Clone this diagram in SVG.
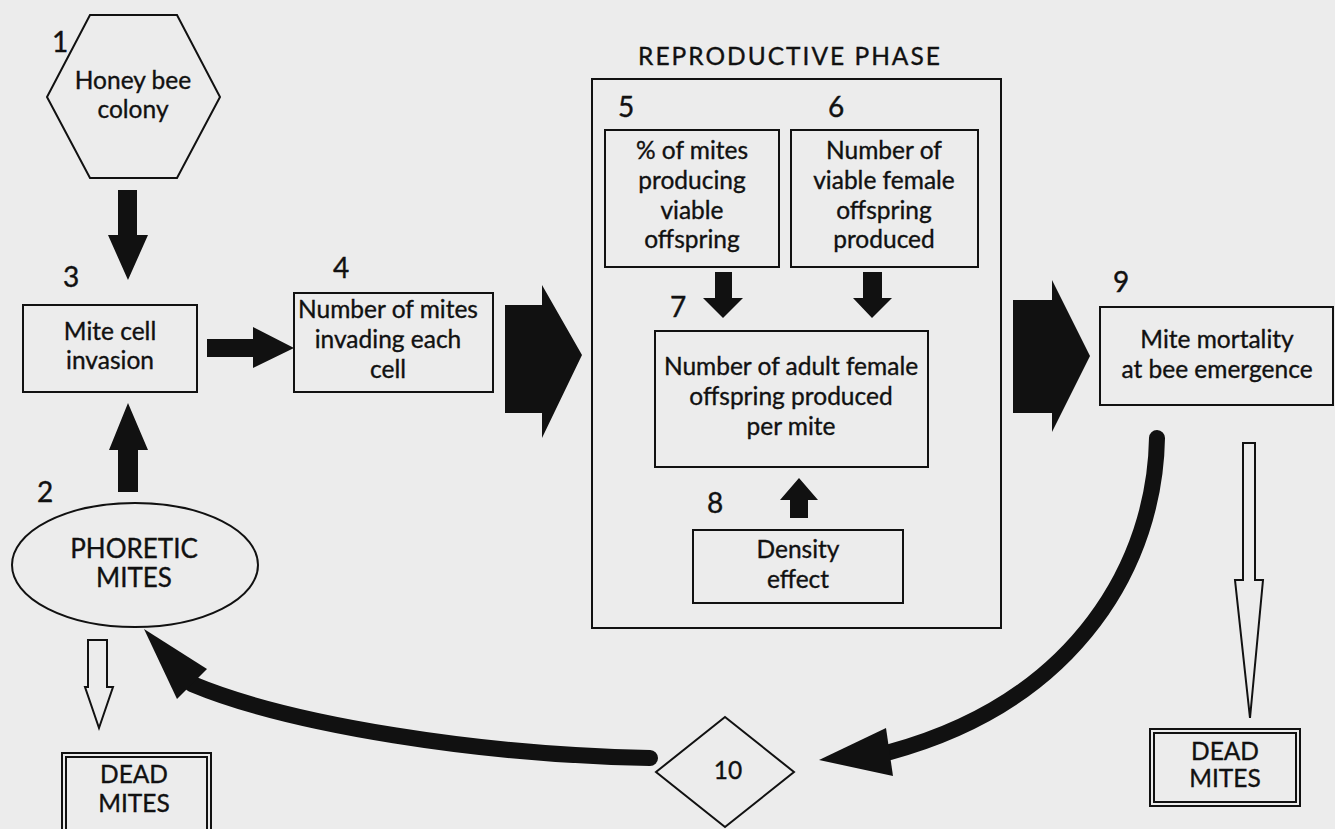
<svg xmlns="http://www.w3.org/2000/svg" width="1335" height="829" viewBox="0 0 1335 829">
<style>
.t{font-family:Lato,"Open Sans","Liberation Sans",sans-serif;fill:#111;stroke:#111;stroke-width:0.35;text-anchor:middle;font-size:24.5px}
.n{font-family:Lato,"Open Sans","Liberation Sans",sans-serif;fill:#111;stroke:#111;stroke-width:0.4;font-size:28px}
.cap{font-size:26px}
.box{fill:none;stroke:#111;stroke-width:2}
.solid{fill:#111;stroke:none}
.hollow{fill:#ececec;stroke:#111;stroke-width:2;stroke-linejoin:miter}
.curve{fill:none;stroke:#111;stroke-width:16;stroke-linecap:round}
</style>
<rect x="0" y="0" width="1335" height="829" fill="#ececec"/>

<g id="connectors">
  <polygon class="solid" points="118,190 137,190 137,235 148,235 128,280 108,235 118,235"/>
  <polygon class="solid" points="118,492 138,492 138,450 148,450 128,403 109,450 118,450"/>
  <polygon class="solid" points="207,339 253,339 253,327 294,348 253,368 253,357 207,357"/>
  <polygon class="solid" points="505,305 542,305 542,285 582,355 542,438 542,413 505,413"/>
  <polygon class="solid" points="1013,300 1052,300 1052,280 1090,356 1052,432 1052,413 1013,413"/>
  <polygon class="solid" points="715,272 732,272 732,298 743,298 723,318 703,298 715,298"/>
  <polygon class="solid" points="863,272 882,272 882,298 892,298 872,318 853,298 863,298"/>
  <polygon class="solid" points="790,518 808,518 808,500 818,500 799,478 780,500 790,500"/>
  <polygon class="hollow" points="88,640 107,640 107,687 113,687 99,728 85,687 88,687"/>
  <polygon class="hollow" points="1243,443 1255,443 1255,580 1263,580 1250,718 1235,580 1243,580"/>
  <path class="curve" d="M 650 758 C 480 755, 290 725, 192 684"/>
  <polygon class="solid" points="144,629 207,669 177,699"/>
  <path class="curve" d="M 1157 438 C 1155 560, 1080 700, 890 752"/>
  <polygon class="solid" points="819,760 886,728 893,776"/>
</g>

<g id="node1">
  <polygon class="box" points="90,15 177,15 220,97 177,178 90,178 47,97"/>
  <text class="n" x="52" y="52">1</text>
  <text class="t" x="133" y="89">Honey bee</text>
  <text class="t" x="133" y="118">colony</text>
</g>

<g id="node3">
  <text class="n" x="63" y="287">3</text>
  <rect class="box" x="23" y="305" width="174" height="87"/>
  <text class="t" x="110" y="340">Mite cell</text>
  <text class="t" x="110" y="369">invasion</text>
</g>

<g id="node4">
  <text class="n" x="333" y="278">4</text>
  <rect class="box" x="294" y="293" width="199" height="99"/>
  <text class="t" x="388" y="318">Number of mites</text>
  <text class="t" x="388" y="348">invading each</text>
  <text class="t" x="388" y="378">cell</text>
</g>

<g id="node2">
  <text class="n" x="37" y="502">2</text>
  <ellipse class="box" cx="135" cy="565" rx="123" ry="62"/>
  <text class="t cap" x="134" y="558">PHORETIC</text>
  <text class="t cap" x="134" y="587">MITES</text>
</g>

<g id="dead-left">
  <rect class="box" x="62" y="753" width="149" height="82"/>
  <rect class="box" x="66" y="757" width="141" height="76" stroke-width="1.5"/>
  <text class="t" x="134" y="783" font-size="25">DEAD</text>
  <text class="t" x="134" y="812" font-size="25">MITES</text>
</g>

<g id="reproductive-phase">
  <text class="t" x="790" y="65" font-size="31" letter-spacing="2">REPRODUCTIVE PHASE</text>
  <rect class="box" x="592" y="79" width="409" height="549"/>
</g>

<g id="node5">
  <text class="n" x="618" y="117">5</text>
  <rect class="box" x="605" y="130" width="174" height="137"/>
  <text class="t" x="692" y="159">% of mites</text>
  <text class="t" x="692" y="189">producing</text>
  <text class="t" x="692" y="219">viable</text>
  <text class="t" x="692" y="248">offspring</text>
</g>

<g id="node6">
  <text class="n" x="828" y="117">6</text>
  <rect class="box" x="791" y="130" width="187" height="137"/>
  <text class="t" x="884" y="159">Number of</text>
  <text class="t" x="884" y="189">viable female</text>
  <text class="t" x="884" y="219">offspring</text>
  <text class="t" x="884" y="248">produced</text>
</g>

<g id="node7">
  <text class="n" x="670" y="317">7</text>
  <rect class="box" x="655" y="331" width="273" height="136"/>
  <text class="t" x="791" y="375">Number of adult female</text>
  <text class="t" x="791" y="405">offspring produced</text>
  <text class="t" x="791" y="435">per mite</text>
</g>

<g id="node8">
  <text class="n" x="707" y="513">8</text>
  <rect class="box" x="693" y="530" width="210" height="73"/>
  <text class="t" x="798" y="558">Density</text>
  <text class="t" x="798" y="588">effect</text>
</g>

<g id="node9">
  <text class="n" x="1113" y="292">9</text>
  <rect class="box" x="1100" y="307" width="233" height="98"/>
  <text class="t" x="1217" y="348">Mite mortality</text>
  <text class="t" x="1217" y="378">at bee emergence</text>
</g>

<g id="node10">
  <polygon class="box" points="725,717 794,772 725,827 656,772"/>
  <text class="t" x="728" y="779" font-size="29">10</text>
</g>

<g id="dead-right">
  <rect class="box" x="1150" y="729" width="150" height="77"/>
  <rect class="box" x="1154" y="733" width="142" height="69" stroke-width="1.5"/>
  <text class="t" x="1225" y="760" font-size="25">DEAD</text>
  <text class="t" x="1225" y="787" font-size="25">MITES</text>
</g>
</svg>
